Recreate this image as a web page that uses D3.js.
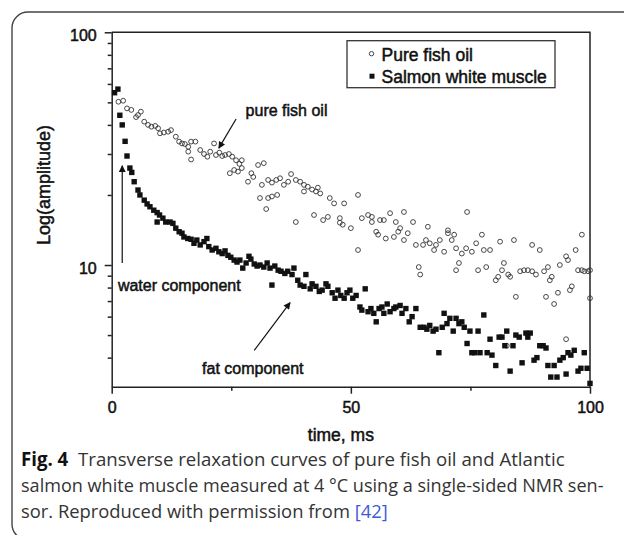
<!DOCTYPE html>
<html>
<head>
<meta charset="utf-8">
<script src="https://cdn.jsdelivr.net/npm/d3@7/dist/d3.min.js"></script>
<style>
body { margin: 0; background: #fff; }
.chart text { font-family: "Liberation Sans", Arial, sans-serif; fill: #111; }
.caption text { font-family: "Open Sans", "Noto Sans", sans-serif; fill: #333; }
</style>
</head>
<body>
<div id="chart"></div>
<script>
// pure fish oil, [time ms, amplitude]
var oilPoints = [
    [1.4,50.3],[2.4,50.8],[3.2,47.1],[4.1,46.4],[5.1,43.2],[5.5,44.1],[6.1,45.6],[6.8,41.3],[7.6,40.0],[8.3,39.3],
    [9.1,39.6],[9.7,38.7],[10.1,36.8],[10.9,37.1],[11.8,37.4],[12.4,38.0],[13.4,35.6],[14.1,33.9],[14.7,33.3],[15.3,33.1],
    [16.0,32.2],[16.0,30.7],[16.6,33.9],[16.6,28.4],[17.5,33.9],[18.5,31.2],[19.3,30.0],[20.0,29.2],[20.6,30.7],[21.4,33.3],
    [21.8,29.7],[22.5,30.4],[23.1,29.4],[23.7,29.7],[24.5,30.0],[24.7,24.8],[25.2,29.2],[25.6,25.6],[26.0,28.2],[26.4,25.2],
    [26.7,27.2],[27.2,28.2],[27.2,26.1],[28.5,22.8],[29.2,24.8],[29.6,23.9],[30.6,26.9],[31.0,19.4],[31.4,22.1],[31.8,27.4],
    [32.3,17.4],[32.7,23.2],[32.7,19.4],[33.5,22.6],[33.5,19.7],[34.4,23.2],[34.6,20.0],[35.2,23.6],[36.0,22.1],[36.9,22.8],
    [37.5,24.6],[38.5,23.2],[38.5,15.3],[39.4,22.8],[40.2,22.1],[40.2,20.7],[41.0,21.7],[41.9,21.1],[42.3,16.4],[42.7,20.7],
    [43.1,21.5],[43.6,20.3],[44.2,15.6],[45.2,16.1],[45.6,19.4],[46.5,18.4],[47.7,15.9],[47.7,15.2],[48.3,14.9],[48.6,18.4],
    [50.0,14.4],[51.5,20.0],[51.5,11.6],[52.3,15.9],[53.6,16.4],[54.4,16.1],[54.4,15.3],[55.3,13.9],[55.7,13.5],[56.1,15.6],
    [56.9,15.6],[57.3,13.0],[58.2,16.7],[59.0,13.2],[59.4,15.3],[59.9,13.9],[60.3,14.4],[61.1,16.9],[61.1,12.8],[61.9,13.7],
    [63.0,15.3],[63.6,12.2],[64.2,9.8],[64.5,9.1],[65.1,12.2],[65.7,12.8],[66.1,14.6],[66.5,12.4],[67.4,11.6],[67.8,12.2],
    [68.6,12.8],[69.5,11.4],[70.3,13.7],[70.3,14.1],[71.1,12.8],[71.6,13.5],[72.0,11.8],[72.0,9.5],[72.6,10.2],[73.2,11.2],
    [74.1,11.8],[74.3,16.9],[75.3,11.4],[76.2,12.4],[76.6,9.5],[77.4,13.5],[77.8,11.6],[78.3,9.8],[79.1,11.6],[80.3,8.6],
    [80.8,8.9],[81.2,12.6],[81.6,9.5],[82.0,10.2],[82.6,4.5],[82.9,9.1],[83.3,8.9],[84.1,12.8],[84.5,7.3],[85.4,9.4],
    [86.2,9.5],[87.0,9.5],[87.9,9.4],[87.9,12.2],[88.7,9.1],[89.5,11.6],[90.4,9.4],[90.8,7.3],[91.2,9.8],[91.6,8.6],
    [92.0,8.9],[92.5,6.8],[93.3,7.6],[93.7,10.0],[95.0,10.9],[95.0,4.8],[95.4,10.5],[95.8,7.8],[96.2,8.1],[97.0,11.6],
    [97.5,9.5],[98.3,9.5],[98.3,13.5],[98.8,9.4],[99.6,9.4],[100,7.2],[100,9.5]
];

// salmon white muscle, [time ms, amplitude]
var salmonPoints = [
    [0.6,55],[1.3,57],[1.7,44],[2.2,40],[2.8,34],[3.2,29.4],[3.8,26.1],[4.2,25],[4.7,22.8],[5.5,21.0],
    [5.9,20.0],[6.8,19.0],[7.4,18.3],[8.0,17.8],[8.8,17.2],[9.5,16.8],[9.5,15.3],[10.0,16.4],[10.7,15.9],[11.3,15.3],
    [12.2,15.3],[12.8,15.1],[13.4,14.4],[14.1,13.9],[14.7,13.7],[15.1,13.2],[15.9,13.0],[16.6,12.9],[17.2,12.4],[17.8,12.8],
    [18.5,12.2],[19.3,12.6],[19.9,13.0],[20.3,12.0],[21.0,11.6],[21.8,11.8],[22.4,11.4],[23.1,11.2],[23.7,11.5],[24.3,11.0],
    [24.9,10.8],[25.6,10.5],[26.2,10.3],[26.8,10.5],[27.4,9.7],[28.1,10.2],[28.7,10.9],[29.1,10.6],[29.8,10.1],[30.4,9.9],
    [31.0,10.0],[31.8,9.8],[32.5,10.2],[33.1,9.7],[33.5,8.2],[34.1,9.9],[34.8,9.5],[35.4,9.4],[36.2,9.2],[36.8,9.4],
    [37.7,9.1],[38.1,9.7],[38.9,8.6],[39.4,8.2],[40.2,8.1],[40.6,9.1],[41.5,7.9],[41.9,8.3],[42.7,8.1],[43.4,7.7],
    [44.0,7.8],[44.8,8.3],[45.2,8.1],[46.1,7.6],[46.7,7.2],[47.3,7.8],[47.9,7.4],[48.6,7.2],[49.2,7.6],[49.8,7.8],
    [50.4,7.2],[51.1,7.4],[51.9,6.6],[52.3,6.4],[53.0,7.9],[53.6,6.3],[54.2,6.5],[54.8,6.2],[55.3,5.7],[55.9,6.5],
    [56.5,6.6],[56.9,6.2],[57.6,6.8],[58.2,6.3],[59.0,6.5],[59.4,6.6],[60.3,6.7],[60.7,6.2],[61.5,6.5],[62.2,5.7],
    [62.8,6.0],[63.6,6.5],[64.5,5.4],[65.3,5.4],[65.9,5.3],[66.5,5.5],[67.2,5.2],[67.8,5.3],[68.4,4.2],[69.1,5.4],
    [69.5,6.2],[70.1,5.6],[70.7,5.9],[71.4,5.2],[72.0,5.9],[72.6,5.6],[73.2,5.7],[73.7,5.4],[74.3,4.6],[74.9,5.2],
    [75.3,4.2],[75.9,4.2],[76.6,5.2],[77.0,4.2],[77.8,6.1],[78.5,4.2],[79.1,4.8],[79.5,4.1],[80.3,3.7],[81.0,4.9],
    [81.6,4.9],[82.2,4.5],[82.6,5.2],[83.3,3.5],[83.9,4.5],[84.5,5.0],[85.2,4.9],[85.8,3.8],[86.6,5.1],[87.0,4.9],
    [87.5,5.1],[88.3,3.9],[88.9,4.0],[89.5,4.5],[90.2,4.5],[90.8,4.4],[91.2,3.7],[91.8,3.3],[92.5,3.7],[93.1,3.3],
    [93.7,3.9],[94.4,4.0],[95.0,3.4],[95.4,4.2],[96.0,4.1],[96.7,4.3],[97.5,3.5],[98.1,3.6],[98.8,4.2],[99.4,3.6],
    [100,3.1]
];

var seriesNames = ["Pure fish oil", "Salmon white muscle"];
var xMajorTicks = [0, 50, 100];
var xMinorTicks = [25, 75];
var yMajorTicks = [10, 100];
var yMinorTicks = [4, 5, 6, 7, 8, 9, 20, 30, 40, 50, 60, 70, 80, 90];
var captionLines = [
    "Transverse relaxation curves of pure fish oil and Atlantic",
    "salmon white muscle measured at 4 \u00b0C using a single-sided NMR sen-",
    "sor. Reproduced with permission from "
];

var WIDTH = 624;
var HEIGHT = 535;
var margin = { left: 111.7, top: 32.3, right: 34, bottom: 148.3 };
var width = WIDTH - margin.left - margin.right;
var height = HEIGHT - margin.top - margin.bottom;

var root = d3.select("#chart").append("svg")
    .attr("width", WIDTH)
    .attr("height", HEIGHT);

// rounded figure frame, only top and left visible
root.append("rect")
    .attr("x", 12).attr("y", 12)
    .attr("width", 700).attr("height", 528)
    .attr("rx", 16)
    .attr("fill", "none")
    .attr("stroke", "#444")
    .attr("stroke-width", 1.4);

var svg = root.append("g")
    .attr("class", "chart")
    .attr("transform", "translate(" + margin.left + "," + margin.top + ")");

var x = d3.scaleLinear().domain([0, 100]).range([0, width]);
var y = d3.scaleLog().domain([3, 100]).range([height, 0]);

// frame top / right
svg.append("path")
    .attr("d", "M0,0H" + width + "V" + height)
    .attr("fill", "none")
    .attr("stroke", "#222")
    .attr("stroke-width", 1.5);

// axes
var yAxis = svg.append("g")
    .call(d3.axisLeft(y).tickValues(yMajorTicks).tickSize(7).tickSizeOuter(0).tickPadding(8)
        .tickFormat(d3.format("d")));
svg.append("g")
    .call(d3.axisLeft(y).tickValues(yMinorTicks).tickSize(4).tickFormat(""))
    .select(".domain").remove();
var xAxis = svg.append("g")
    .attr("transform", "translate(0," + height + ")")
    .call(d3.axisBottom(x).tickValues(xMajorTicks).tickSize(7).tickSizeOuter(0).tickPadding(8));
svg.append("g")
    .attr("transform", "translate(0," + height + ")")
    .call(d3.axisBottom(x).tickValues(xMinorTicks).tickSize(4).tickFormat(""))
    .select(".domain").remove();

svg.selectAll(".domain, .tick line")
    .attr("stroke", "#222")
    .attr("stroke-width", 1.5);
svg.selectAll(".tick text")
    .attr("font-size", 16)
    .attr("fill", "#111")
    .attr("stroke", "#111")
    .attr("stroke-width", 0.5)
    .attr("font-family", "Liberation Sans, Arial, sans-serif");
yAxis.selectAll(".tick text").attr("dy", "0.5em");

// data marks
svg.append("g").selectAll("circle")
    .data(oilPoints)
    .enter().append("circle")
    .attr("cx", function(d) { return x(d[0]); })
    .attr("cy", function(d) { return y(d[1]); })
    .attr("r", 2.4)
    .attr("fill", "none")
    .attr("stroke", "#333")
    .attr("stroke-width", 0.9);

svg.append("g").selectAll("rect")
    .data(salmonPoints)
    .enter().append("rect")
    .attr("x", function(d) { return x(d[0]) - 2.7; })
    .attr("y", function(d) { return y(d[1]) - 2.7; })
    .attr("width", 5.4)
    .attr("height", 5.4)
    .attr("fill", "#111");

// axis titles
function heavy(sel, size) {
    return sel.attr("font-size", size)
        .attr("stroke", "#111")
        .attr("stroke-width", 0.5);
}
heavy(svg.append("text"), 17.5)
    .attr("x", x(50) - 10)
    .attr("y", height + 54)
    .attr("text-anchor", "middle")
    .text("time, ms");
heavy(svg.append("text"), 18)
    .attr("transform", "translate(" + (50 - margin.left) + "," + (185 - margin.top) + ") rotate(-90)")
    .attr("text-anchor", "middle")
    .text("Log(amplitude)");

// legend
var legend = svg.append("g")
    .attr("transform", "translate(" + (347 - margin.left) + "," + (40.7 - margin.top) + ")");
legend.append("rect")
    .attr("width", 208).attr("height", 47)
    .attr("fill", "#fff")
    .attr("stroke", "#333")
    .attr("stroke-width", 1.3);
legend.append("circle")
    .attr("cx", 24.5).attr("cy", 13)
    .attr("r", 2.2)
    .attr("fill", "none").attr("stroke", "#333").attr("stroke-width", 0.9);
legend.append("rect")
    .attr("x", 22.5).attr("y", 33)
    .attr("width", 5).attr("height", 5)
    .attr("fill", "#111");
heavy(legend.selectAll(".leg").data(seriesNames).enter().append("text"), 17.5)
    .attr("x", 34.5)
    .attr("y", function(d, i) { return 20.5 + i * 21.7; })
    .text(function(d) { return d; });

// annotations with arrows
svg.append("defs").append("marker")
    .attr("id", "head")
    .attr("viewBox", "0 0 10 10")
    .attr("refX", 9).attr("refY", 5)
    .attr("markerWidth", 9).attr("markerHeight", 7)
    .attr("markerUnits", "userSpaceOnUse")
    .attr("orient", "auto")
    .append("path")
    .attr("d", "M0,0L10,5L0,10Z")
    .attr("fill", "#111");

var notes = [
    { text: "pure fish oil", tx: 28.0, ty: 46.4, from: [26.0, 42.4], to: [22.4, 31.8] },
    { text: "water component", tx: 1.3, ty: 8.2, from: [2.2, 10.2], to: [2.2, 26.7] },
    { text: "fat component", tx: 18.9, ty: 3.6, from: [29.8, 4.3], to: [37.3, 6.9] }
];
notes.forEach(function(n) {
    heavy(svg.append("text"), 16)
        .attr("x", x(n.tx))
        .attr("y", y(n.ty))
        .attr("dy", "0.36em")
        .text(n.text);
    svg.append("line")
        .attr("x1", x(n.from[0])).attr("y1", y(n.from[1]))
        .attr("x2", x(n.to[0])).attr("y2", y(n.to[1]))
        .attr("stroke", "#111")
        .attr("stroke-width", 1.2)
        .attr("marker-end", "url(#head)");
});

// figure caption, each line squeezed to the width it has in the figure
var caption = root.append("g").attr("class", "caption");
var capY = [466, 492.5, 518.5];
var capRight = [565, 604, 388];
var line1 = caption.append("text").attr("y", capY[0]).attr("font-size", 19);
line1.append("tspan").attr("font-weight", "bold").style("fill", "#111").text("Fig. 4");
line1.append("tspan").attr("dx", 10).text(captionLines[0]);
caption.append("text").attr("y", capY[1]).attr("font-size", 19).text(captionLines[1]);
var line3 = caption.append("text").attr("y", capY[2]).attr("font-size", 19);
line3.append("tspan").text(captionLines[2]);
line3.append("tspan").style("fill", "#3b5bd6").text("[42]");

caption.selectAll("text").each(function(d, i) {
    var w = this.getBBox().width;
    var sx = (capRight[i] - 21) / w;
    d3.select(this).attr("transform", "translate(21,0) scale(" + sx + ",1)");
});
</script>
</body>
</html>
